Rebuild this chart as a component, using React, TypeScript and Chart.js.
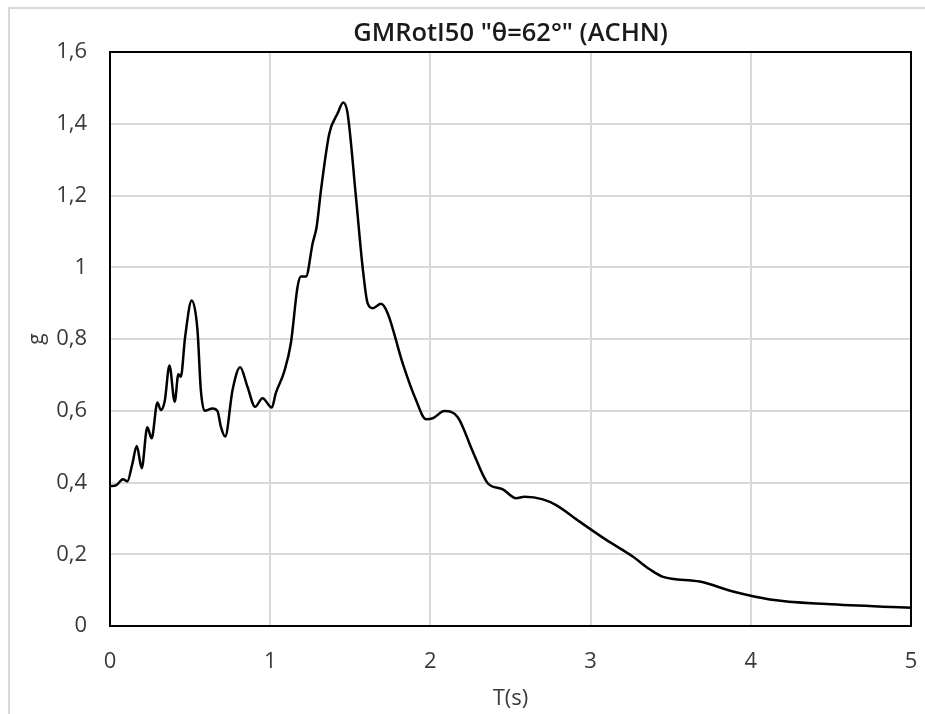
import { useEffect, useRef } from 'react';
import { Chart, registerables } from 'chart.js';

Chart.register(...registerables);

// Response spectrum: period T (s) vs spectral acceleration (g)
const periods = [
  0, 0.04, 0.081, 0.108, 0.14, 0.167, 0.198, 0.233, 0.26, 0.296, 0.317, 0.342,
  0.371, 0.404, 0.427, 0.442, 0.469, 0.51, 0.546, 0.567, 0.59, 0.64, 0.671, 0.692,
  0.719, 0.765, 0.8125, 0.858, 0.906, 0.952, 1.01, 1.035, 1.0875, 1.129, 1.171,
  1.192, 1.223, 1.265, 1.29, 1.317, 1.369, 1.421, 1.456, 1.483, 1.535, 1.577,
  1.608, 1.64, 1.692, 1.733, 1.827, 1.91, 1.973, 2.015, 2.0875, 2.171, 2.265,
  2.358, 2.452, 2.535, 2.5875, 2.702, 2.785, 2.931, 3.098, 3.265, 3.369, 3.452,
  3.681, 3.889, 4.119, 4.473, 5.0,
];
const spectralAccel = [
  0.39, 0.393, 0.409, 0.403, 0.453, 0.502, 0.44, 0.554, 0.523, 0.623, 0.602, 0.628,
  0.726, 0.625, 0.702, 0.695, 0.806, 0.907, 0.825, 0.658, 0.6, 0.606, 0.599, 0.556,
  0.528, 0.658, 0.721, 0.667, 0.611, 0.635, 0.609, 0.649, 0.709, 0.788, 0.946,
  0.974, 0.974, 1.067, 1.113, 1.215, 1.373, 1.429, 1.459, 1.429, 1.197, 1.0,
  0.9, 0.886, 0.898, 0.872, 0.732, 0.63, 0.576, 0.579, 0.599, 0.582, 0.486,
  0.398, 0.381, 0.356, 0.36, 0.353, 0.337, 0.291, 0.24, 0.193, 0.158, 0.137,
  0.124, 0.096, 0.074, 0.061, 0.051,
];

const xTickLabels = ['0', '1', '2', '3', '4', '5'];
const yTickLabels = ['0', '0,2', '0,4', '0,6', '0,8', '1', '1,2', '1,4', '1,6'];

const chartTitle = 'GMRotI50 "θ=62°" (ACHN)';
const xAxisTitle = 'T(s)';
const yAxisTitle = 'g';

const FONT = '"Open Sans", "DejaVu Sans", sans-serif';
const GRID = '#d9d9d9';
const TEXT = '#3a3a3a';

const chromePlugin = {
  id: 'chrome',
  beforeDraw(chart: any) {
    const { ctx, width, height } = chart;
    ctx.save();
    ctx.fillStyle = '#ffffff';
    ctx.fillRect(0, 0, width, height);
    // outer chart frame
    ctx.strokeStyle = GRID;
    ctx.lineWidth = 2;
    ctx.strokeRect(9, 8, width + 20, height + 20);
    ctx.restore();
  },
  beforeDatasetsDraw(chart: any) {
    const { ctx, chartArea: a } = chart;
    ctx.save();
    ctx.strokeStyle = '#000000';
    ctx.lineWidth = 2;
    ctx.strokeRect(a.left, a.top, a.right - a.left, a.bottom - a.top);
    ctx.restore();
  },
  afterDraw(chart: any) {
    const { ctx, chartArea: a } = chart;
    ctx.save();
    ctx.fillStyle = '#1a1a1a';
    ctx.font = `600 25.5px ${FONT}`;
    ctx.textAlign = 'center';
    ctx.textBaseline = 'middle';
    ctx.fillText(chartTitle, (a.left + a.right) / 2, 34);
    ctx.restore();
  },
};

export default function App() {
  const canvasRef = useRef<HTMLCanvasElement | null>(null);

  useEffect(() => {
    const canvas = canvasRef.current;
    if (!canvas) return;
    const points = periods.map((t, i) => ({ x: t, y: spectralAccel[i] }));

    const chart = new Chart(canvas, {
      type: 'line',
      data: {
        datasets: [
          {
            data: points,
            borderColor: '#000000',
            borderWidth: 2.5,
            pointRadius: 0,
            fill: false,
            cubicInterpolationMode: 'monotone',
          },
        ],
      },
      options: {
        responsive: false,
        animation: false,
        layout: { padding: { left: 0, right: 14, top: 52, bottom: 0 } },
        plugins: {
          legend: { display: false },
          title: { display: false },
          tooltip: { enabled: false },
        },
        scales: {
          x: {
            type: 'linear',
            min: 0,
            max: 5,
            afterFit: (scale: any) => {
              scale.height = 88;
              scale.paddingLeft = 0;
              scale.paddingRight = 0;
            },
            ticks: {
              stepSize: 1,
              padding: 23,
              color: TEXT,
              font: { family: FONT, size: 22 },
              callback: (_v: any, i: number) => xTickLabels[i],
            },
            grid: { color: GRID, lineWidth: 2, drawTicks: false },
            border: { display: false },
            title: {
              display: true,
              text: xAxisTitle,
              color: TEXT,
              font: { family: FONT, size: 22 },
              padding: { top: 0, bottom: 2 },
            },
          },
          y: {
            type: 'linear',
            min: 0,
            max: 1.6,
            afterFit: (scale: any) => {
              scale.width = 110;
              scale.paddingTop = 0;
              scale.paddingBottom = 0;
            },
            ticks: {
              stepSize: 0.2,
              padding: 23,
              color: TEXT,
              font: { family: FONT, size: 22 },
              callback: (_v: any, i: number) => yTickLabels[i],
            },
            grid: { color: GRID, lineWidth: 2, drawTicks: false },
            border: { display: false },
            title: {
              display: true,
              text: yAxisTitle,
              color: TEXT,
              font: { family: FONT, size: 21 },
              padding: { top: 24, bottom: 0 },
            },
          },
        },
      },
      plugins: [chromePlugin],
    });

    return () => chart.destroy();
  }, []);

  return (
    <div style={{ position: 'absolute', left: 0, top: 0, width: 925, height: 714, background: '#fff' }}>
      <canvas ref={canvasRef} width={925} height={714} />
    </div>
  );
}
